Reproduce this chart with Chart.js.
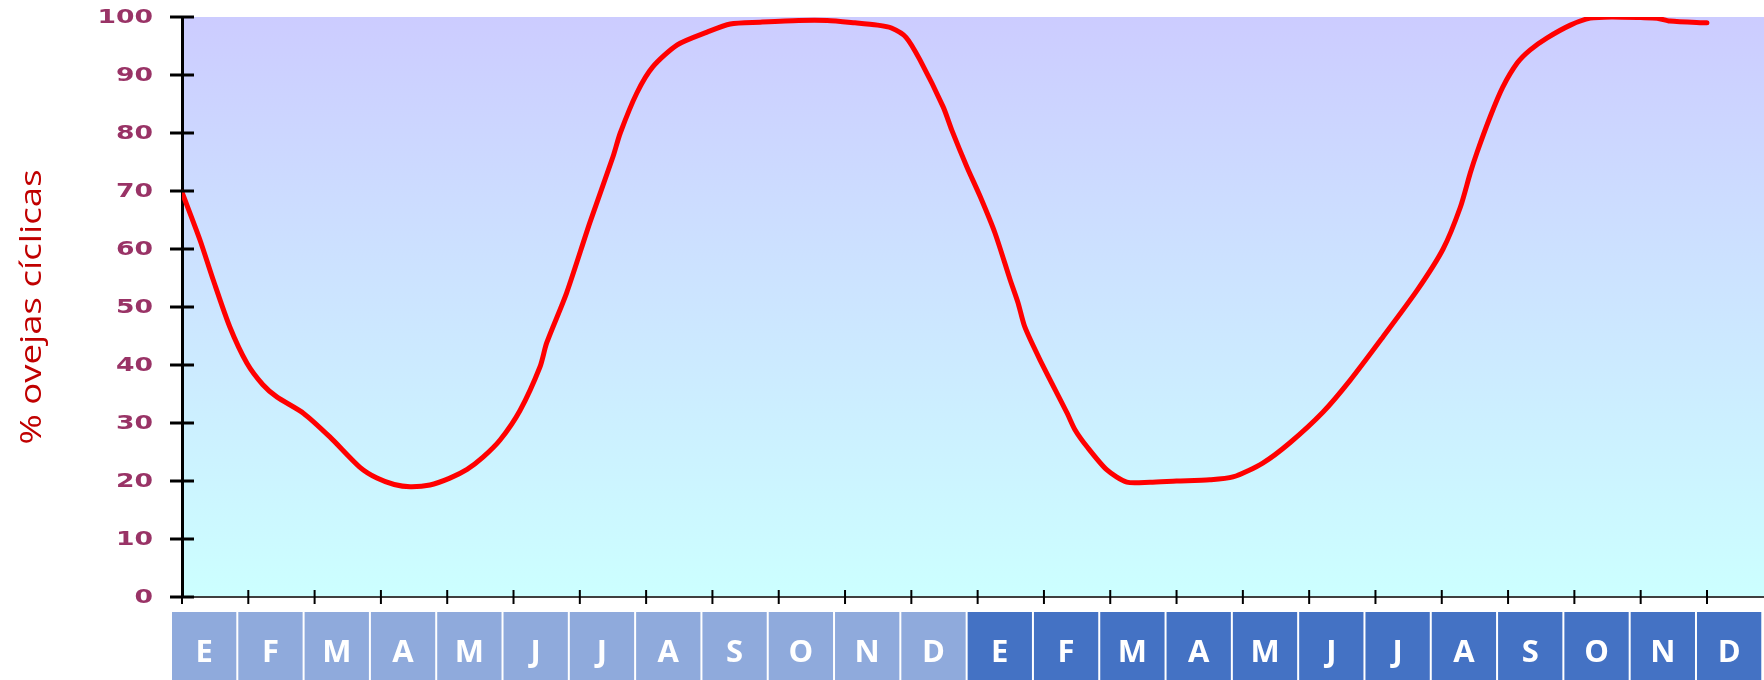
<!DOCTYPE html>
<html>
<head>
<meta charset="utf-8">
<script src="https://cdn.jsdelivr.net/npm/chart.js@4.4.1/dist/chart.umd.min.js"></script>
<style>
  html, body { margin: 0; padding: 0; background: #fff; }
  #wrap { width: 1764px; height: 680px; }
</style>
</head>
<body>
<div id="wrap"><canvas id="sheepChart" width="1764" height="680"></canvas></div>
<script>
// month letters for the two years shown under the axis
const monthLetters = ["E","F","M","A","M","J","J","A","S","O","N","D",
                      "E","F","M","A","M","J","J","A","S","O","N","D"];
const yTicks = [0,10,20,30,40,50,60,70,80,90,100];
const yTitle = "% ovejas cíclicas";

// curve position in months since the first January, and % of cycling ewes
const curveMonth = [0,0.27,0.47,0.72,0.98,1.22,1.43,1.83,2.23,2.68,2.94,3.2,3.44,3.74,
  4.04,4.3,4.54,4.8,5.1,5.4,5.5,5.8,6.15,6.5,6.61,6.86,7.1,7.47,7.92,8.27,8.72,
  9.3,9.73,10.15,10.49,10.7,10.92,11.13,11.48,11.61,11.84,12.04,12.26,12.49,12.61,12.71,
  12.94,13.35,13.47,13.65,13.95,14.25,14.6,15.0,15.5,15.85,16.3,16.71,17.21,17.62,18.11,
  18.63,19.02,19.28,19.43,19.53,19.73,19.92,20.14,20.33,20.59,20.94,21.24,21.58,22.0,
  22.25,22.44,23.0];
const curveValue = [69.8,61.6,54.7,46.6,40.3,36.6,34.5,31.7,27.6,22.4,20.5,19.4,19.0,19.3,
  20.5,22.0,24.1,27.1,32.2,39.7,43.8,52.4,64.5,75.9,80.0,86.9,91.4,95.2,97.4,98.8,99.1,
  99.4,99.4,99.0,98.6,98.1,96.5,92.6,84.5,80.5,74.1,69.0,62.8,54.7,50.7,46.6,
  40.9,31.7,28.8,25.9,21.9,19.8,19.8,20.0,20.2,20.7,23.1,26.6,31.9,37.4,44.8,
  52.9,60.0,67.2,73.1,76.6,82.8,87.9,92.1,94.3,96.4,98.6,99.8,100,99.9,
  99.8,99.3,99.0];

const points = curveMonth.map((m, i) => ({x: m, y: curveValue[i]}));

const decorPlugin = {
  id: 'decor',
  beforeDraw(chart) {
    const {ctx, chartArea} = chart;
    const g = ctx.createLinearGradient(0, chartArea.top, 0, chartArea.bottom);
    g.addColorStop(0, '#CCCCFF');
    g.addColorStop(1, '#CCFFFF');
    ctx.save();
    ctx.fillStyle = g;
    ctx.fillRect(chartArea.left, chartArea.top, chartArea.right - chartArea.left, chartArea.bottom - chartArea.top);
    ctx.restore();
  },
  afterDraw(chart) {
    const {ctx, chartArea} = chart;
    const xs = chart.scales.x, ys = chart.scales.y;
    ctx.save();
    // y tick marks crossing the axis + wide purple labels
    ctx.strokeStyle = '#000';
    ctx.lineWidth = 3;
    ctx.font = 'bold 19px "DejaVu Sans"';
    ctx.textAlign = 'right';
    ctx.textBaseline = 'middle';
    ctx.fillStyle = '#993366';
    yTicks.forEach(v => {
      const y = ys.getPixelForValue(v);
      ctx.beginPath();
      ctx.moveTo(chartArea.left - 12, y);
      ctx.lineTo(chartArea.left + 12, y);
      ctx.stroke();
      ctx.save();
      ctx.translate(chartArea.left - 29, y + 1);
      ctx.scale(1.4, 1);
      ctx.fillText(String(v), 0, 0);
      ctx.restore();
    });
    // x tick marks at each month
    ctx.lineWidth = 2;
    monthLetters.forEach((_, i) => {
      const x = xs.getPixelForValue(i);
      ctx.beginPath();
      ctx.moveTo(x, chartArea.bottom - 7);
      ctx.lineTo(x, chartArea.bottom + 7);
      ctx.stroke();
    });
    // month boxes
    ctx.font = 'bold 31px "Open Sans"';
    ctx.textAlign = 'center';
    ctx.textBaseline = 'alphabetic';
    monthLetters.forEach((m, i) => {
      const x0 = xs.getPixelForValue(i) - 10;
      const x1 = xs.getPixelForValue(i + 1) - 10 - 2;
      ctx.fillStyle = i < 12 ? '#8FAADC' : '#4472C4';
      ctx.fillRect(x0, 612, x1 - x0, 70);
      ctx.fillStyle = '#fff';
      ctx.fillText(m, (x0 + x1) / 2, 662);
    });
    // rotated axis title
    ctx.save();
    ctx.translate(32, (chartArea.top + chartArea.bottom) / 2);
    ctx.rotate(-Math.PI / 2);
    ctx.scale(1.22, 1);
    ctx.font = '30px "Open Sans"';
    ctx.fillStyle = '#C00000';
    ctx.textAlign = 'center';
    ctx.textBaseline = 'middle';
    ctx.fillText(yTitle, 0, 0);
    ctx.restore();
    ctx.restore();
  }
};

new Chart("sheepChart", {
  type: "line",
  data: {
    datasets: [{
      data: points,
      borderColor: "#FF0000",
      borderWidth: 5,
      pointRadius: 0,
      tension: 0.25,
      borderCapStyle: 'round',
      fill: false
    }]
  },
  options: {
    responsive: false,
    animation: false,
    layout: { padding: { top: 17, right: 0, left: 0, bottom: 0 } },
    plugins: { legend: { display: false }, tooltip: { enabled: false } },
    scales: {
      x: {
        type: 'linear',
        min: 0,
        max: 23.86,
        afterFit(scale) { scale.height = 83; scale.paddingLeft = 0; scale.paddingRight = 0; },
        ticks: { display: false },
        grid: { drawOnChartArea: false, drawTicks: false },
        border: { display: true, color: '#404040', width: 2 }
      },
      y: {
        min: 0,
        max: 100,
        afterFit(scale) { scale.width = 182; scale.paddingTop = 0; scale.paddingBottom = 0; },
        ticks: { display: false, stepSize: 10 },
        grid: { drawOnChartArea: false, drawTicks: false },
        border: { display: true, color: '#000', width: 3 }
      }
    }
  },
  plugins: [decorPlugin]
});
</script>
</body>
</html>
